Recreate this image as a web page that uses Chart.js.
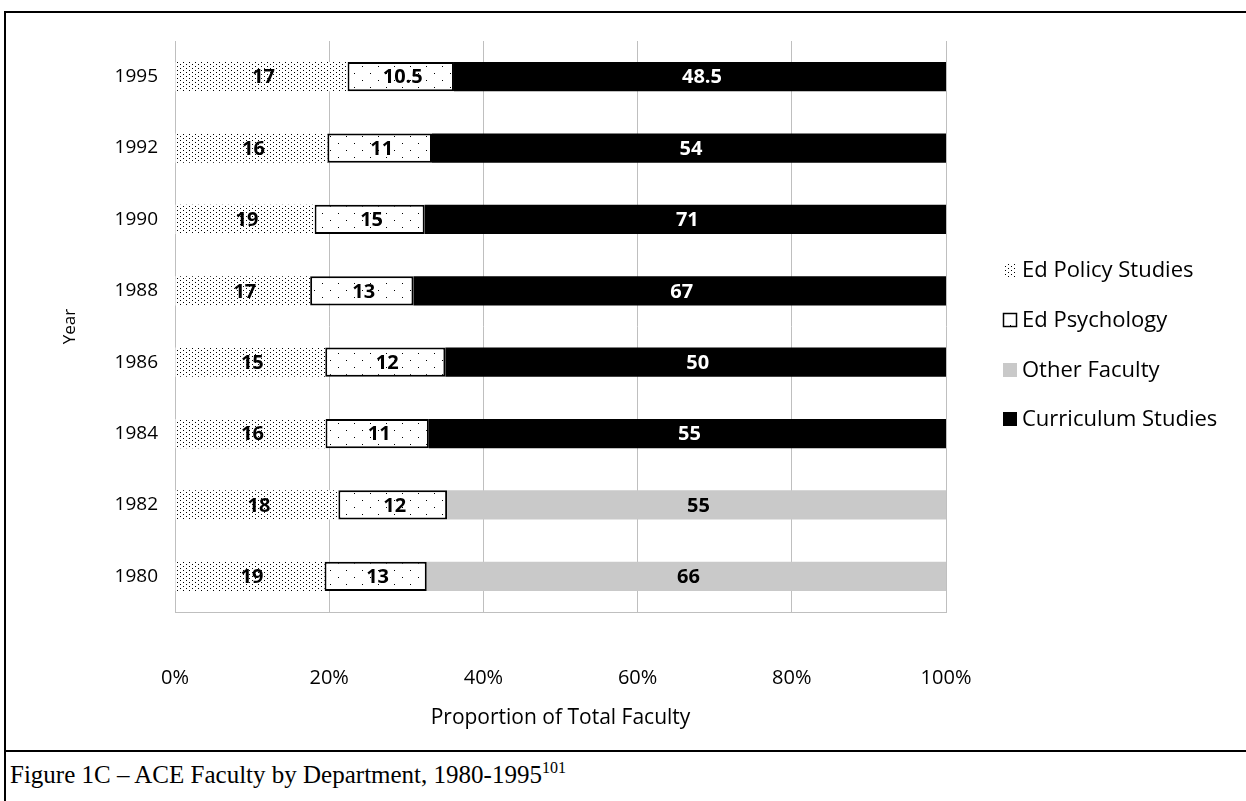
<!DOCTYPE html>
<html>
<head>
<meta charset="utf-8">
<script src="https://cdn.jsdelivr.net/npm/chart.js@4/dist/chart.umd.min.js"></script>
<style>
  html, body { margin: 0; padding: 0; background: #fff; }
  #wrap { position: relative; width: 1246px; height: 801px; overflow: hidden; }
  #chart { position: absolute; left: 0; top: 0; }
  .line { position: absolute; background: #000; }
  #caption {
    position: absolute; left: 10px; top: 761px;
    font-family: "Liberation Serif", "Times New Roman", serif; font-size: 25px; color: #000;
    white-space: nowrap;
  }
  #caption sup { font-size: 16px; vertical-align: 10px; line-height: 0; }
</style>
</head>
<body>
<div id="wrap">
  <canvas id="chart" width="1246" height="751"></canvas>
  <div class="line" style="left:4px;top:11px;width:1242px;height:2px"></div>
  <div class="line" style="left:4px;top:11px;width:2px;height:790px"></div>
  <div class="line" style="left:4px;top:750px;width:1242px;height:2px"></div>
  <div id="caption">Figure 1C – ACE Faculty by Department, 1980-1995<sup>101</sup></div>
</div>
<script>
const years = ['1980', '1982', '1984', '1986', '1988', '1990', '1992', '1995'];
const edPolicy = [19, 18, 16, 15, 17, 19, 16, 17];
const edPsych = [13, 12, 11, 12, 13, 15, 11, 10.5];
const otherFaculty = [66, 55, 0, 0, 0, 0, 0, 0];
const curriculum = [0, 0, 55, 50, 67, 71, 54, 48.5];
const xTicks = [0, 20, 40, 60, 80, 100];

const FONT = '"Open Sans", "DejaVu Sans", sans-serif';
const GRID = '#bfbfbf';

function makePattern(w, h, dots, bg) {
  const c = document.createElement('canvas');
  c.width = w;
  c.height = h;
  const g = c.getContext('2d');
  g.fillStyle = bg;
  g.fillRect(0, 0, w, h);
  g.fillStyle = '#000';
  dots.forEach(([x, y]) => g.fillRect(x, y, 1, 1));
  return g.createPattern(c, 'repeat');
}

const ctx = document.getElementById('chart').getContext('2d');
const densePattern = makePattern(6, 4, [[0, 0], [3, 2]], '#fff');
const sparsePattern = makePattern(16, 14, [[2, 3], [10, 10]], '#fff');

const totals = years.map((_, i) => edPolicy[i] + edPsych[i] + otherFaculty[i] + curriculum[i]);
const pct = arr => arr.map((v, i) => v / totals[i] * 100);

const series = [
  { label: 'Ed Policy Studies', counts: edPolicy, fill: densePattern, border: null, text: '#000' },
  { label: 'Ed Psychology', counts: edPsych, fill: sparsePattern, border: '#000', text: '#000' },
  { label: 'Other Faculty', counts: otherFaculty, fill: '#c9c9c9', border: null, text: '#000' },
  { label: 'Curriculum Studies', counts: curriculum, fill: '#000', border: null, text: '#fff' },
];

// counts written in the middle of each segment
const barLabels = {
  id: 'barLabels',
  afterDatasetsDraw(chart) {
    const c = chart.ctx;
    c.save();
    c.font = 'bold 20px ' + FONT;
    c.textAlign = 'center';
    c.textBaseline = 'middle';
    series.forEach((s, i) => {
      chart.getDatasetMeta(i).data.forEach((bar, j) => {
        const v = s.counts[j];
        if (!v) return;
        const p = bar.getCenterPoint();
        c.fillStyle = s.text;
        c.fillText(String(v), p.x + 2, p.y + 1);
      });
    });
    c.restore();
  },
};

// legend on the right, drawn by hand so the swatches can carry the patterns
const sideLegend = {
  id: 'sideLegend',
  afterDraw(chart) {
    const c = chart.ctx;
    const rows = [270, 320, 370, 419];
    c.save();
    c.font = '22px ' + FONT;
    c.textBaseline = 'middle';
    c.textAlign = 'left';
    series.forEach((s, i) => {
      const y = rows[i];
      c.fillStyle = s.fill;
      c.fillRect(1003, y - 7, 14, 14);
      if (s.border) {
        c.strokeStyle = s.border;
        c.lineWidth = 1.5;
        c.strokeRect(1003.5, y - 6.5, 13, 13);
      }
      c.fillStyle = '#000';
      c.fillText(s.label, 1022, y + 1);
    });
    c.restore();
  },
};

new Chart(ctx, {
  type: 'bar',
  data: {
    labels: years,
    datasets: series.map(s => ({
      label: s.label,
      data: pct(s.counts),
      backgroundColor: s.fill,
      borderColor: s.border || 'transparent',
      borderWidth: s.border ? 2 : 0,
      borderSkipped: false,
      categoryPercentage: 1,
      barPercentage: 0.41,
    })),
  },
  options: {
    indexAxis: 'y',
    responsive: false,
    animation: false,
    devicePixelRatio: 1,
    layout: { padding: { left: 60, right: 300, top: 41, bottom: 20 } },
    plugins: {
      legend: { display: false },
      tooltip: { enabled: false },
    },
    scales: {
      x: {
        stacked: true,
        min: 0,
        max: 100,
        afterFit: s => { s.height = 119; },
        afterBuildTicks: s => { s.ticks = xTicks.map(v => ({ value: v })); },
        grid: { color: GRID, lineWidth: 1, drawTicks: false },
        border: { display: true, color: GRID, width: 1 },
        ticks: {
          color: '#000',
          padding: 54,
          font: { size: 20, family: FONT },
          callback: v => v + '%',
        },
        title: {
          display: true,
          text: 'Proportion of Total Faculty',
          color: '#000',
          padding: 0,
          font: { size: 21, family: FONT },
        },
      },
      y: {
        stacked: true,
        reverse: true,
        afterFit: s => { s.width = 115; },
        grid: { display: false, drawTicks: false },
        border: { display: true, color: GRID, width: 1 },
        ticks: {
          color: '#000',
          padding: 17,
          font: { size: 19, family: FONT },
        },
        title: {
          display: true,
          text: 'Year',
          color: '#000',
          padding: 0,
          font: { size: 17, family: FONT },
        },
      },
    },
  },
  plugins: [barLabels, sideLegend],
});
</script>
</body>
</html>
